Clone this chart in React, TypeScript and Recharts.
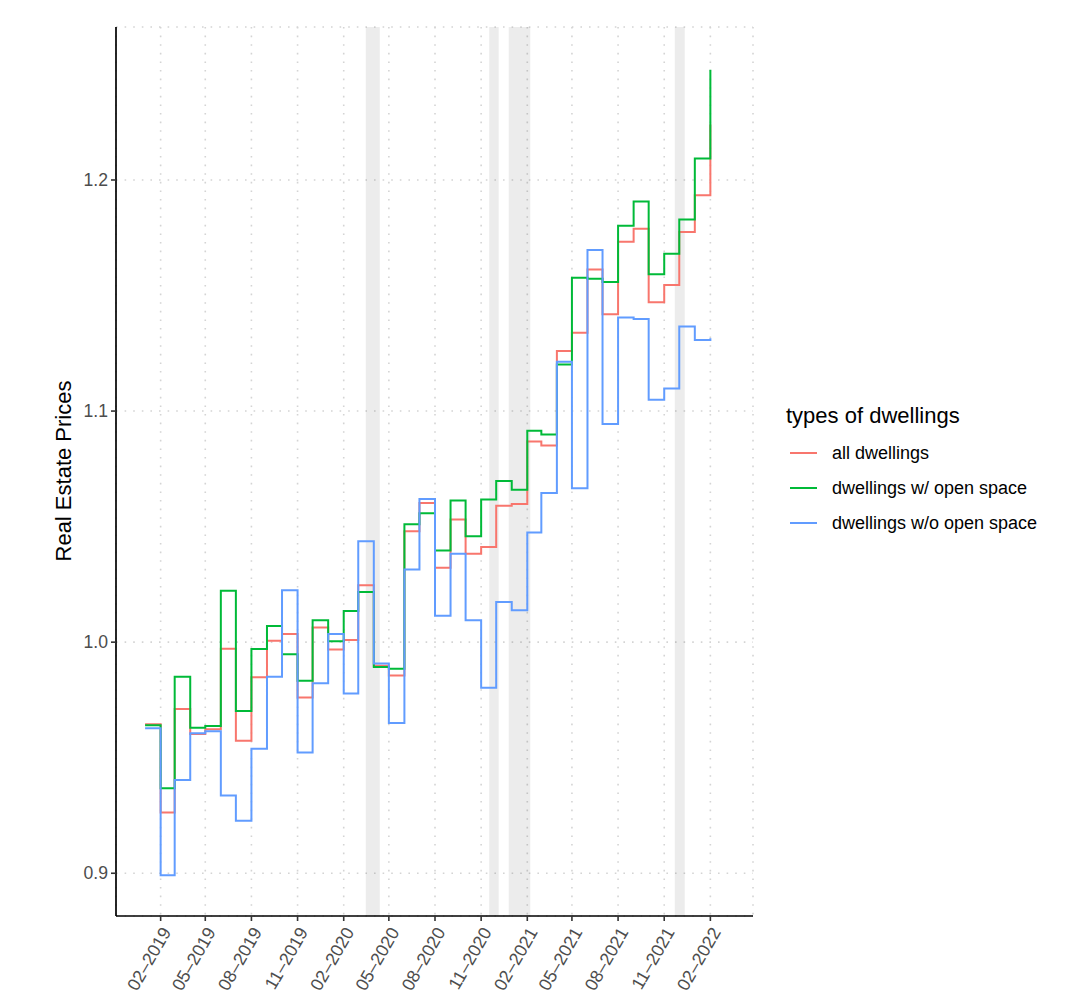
import React from 'react';
import { CartesianGrid, Line, LineChart, ReferenceArea, XAxis, YAxis } from 'recharts';

const MONTHS = [
  '2019-01', '2019-02', '2019-03', '2019-04', '2019-05', '2019-06', '2019-07', '2019-08', '2019-09', '2019-10', '2019-11', '2019-12',
  '2020-01', '2020-02', '2020-03', '2020-04', '2020-05', '2020-06', '2020-07', '2020-08', '2020-09', '2020-10', '2020-11', '2020-12',
  '2021-01', '2021-02', '2021-03', '2021-04', '2021-05', '2021-06', '2021-07', '2021-08', '2021-09', '2021-10', '2021-11', '2021-12',
  '2022-01', '2022-02',
];

// all dwellings
const ALL = [
  0.9645, 0.9263, 0.9711, 0.9603, 0.9623, 0.9971, 0.9573, 0.9848, 1.0006, 1.0035, 0.9761, 1.0063,
  0.9968, 1.0009, 1.0246, 0.9898, 0.9856, 1.0480, 1.0602, 1.0322, 1.0531, 1.0383, 1.0412, 1.0590,
  1.0598, 1.0868, 1.0851, 1.1260, 1.1339, 1.1613, 1.1419, 1.1733, 1.1789, 1.1471, 1.1546, 1.1775,
  1.1934, 1.2240,
];

// dwellings w/ open space
const OPEN = [
  0.9640, 0.9368, 0.9850, 0.9630, 0.9637, 1.0222, 0.9702, 0.9970, 1.0070, 0.9948, 0.9833, 1.0095,
  1.0004, 1.0135, 1.0217, 0.9893, 0.9885, 1.0510, 1.0558, 1.0397, 1.0613, 1.0458, 1.0617, 1.0697,
  1.0659, 1.0915, 1.0899, 1.1202, 1.1577, 1.1573, 1.1559, 1.1802, 1.1907, 1.1592, 1.1681, 1.1829,
  1.2093, 1.2477,
];

// dwellings w/o open space
const NO_OPEN = [
  0.9627, 0.8991, 0.9403, 0.9606, 0.9614, 0.9336, 0.9227, 0.9539, 0.9850, 1.0225, 0.9522, 0.9822,
  1.0035, 0.9778, 1.0437, 0.9908, 0.9650, 1.0314, 1.0620, 1.0114, 1.0383, 1.0095, 0.9803, 1.0174,
  1.0138, 1.0475, 1.0646, 1.1213, 1.0666, 1.1697, 1.0944, 1.1405, 1.1398, 1.1049, 1.1098, 1.1366,
  1.1308, 1.1315,
];

const LOCKDOWNS = [
  ['2020-03-16', '2020-04-13'],
  ['2020-11-17', '2020-12-06'],
  ['2020-12-26', '2021-02-07'],
  ['2021-11-22', '2021-12-12'],
];

const X_TICKS = [
  '2019-02', '2019-05', '2019-08', '2019-11', '2020-02', '2020-05', '2020-08',
  '2020-11', '2021-02', '2021-05', '2021-08', '2021-11', '2022-02',
];
const X_RANGE = ['2018-11-04', '2022-04-27'];
const Y_TICKS = [0.9, 1.0, 1.1, 1.2];
const Y_RANGE = [0.8815, 1.2662];

const SERIES = [
  { key: 'all', name: 'all dwellings', color: '#F8766D' },
  { key: 'open', name: 'dwellings w/ open space', color: '#00BA38' },
  { key: 'noOpen', name: 'dwellings w/o open space', color: '#619CFF' },
];

const FONT = '"Liberation Sans", Arial, Helvetica, sans-serif';
const TEXT = '#4D4D4D';

const ts = (s: string) => {
  const [y, m, d] = s.split('-').map(Number);
  return Date.UTC(y, m - 1, d || 1);
};

const data = MONTHS.map((m, i) => ({ t: ts(m), all: ALL[i], open: OPEN[i], noOpen: NO_OPEN[i] }));

function XTick({ x, y, payload }: any) {
  const d = new Date(payload.value);
  const label = `${String(d.getUTCMonth() + 1).padStart(2, '0')}–${d.getUTCFullYear()}`;
  const ax = x + 11;
  const ay = y + 11;
  return (
    <text x={ax} y={ay} transform={`rotate(-60 ${ax} ${ay})`} textAnchor="end"
      fontSize={17.8} fill={TEXT} fontFamily={FONT}>
      {label}
    </text>
  );
}

export default function App() {
  return (
    <div style={{ position: 'relative', width: 1089, height: 994, background: '#fff' }}>
      <style>{'body{margin:0}'}</style>
      <LineChart width={1089} height={994} data={data} margin={{ top: 27, right: 336, bottom: 0, left: 0 }}>
        <CartesianGrid stroke="#d4d4d4" strokeWidth={1.6} strokeDasharray="1.6 7" />
        <XAxis dataKey="t" type="number" domain={X_RANGE.map(ts)} allowDataOverflow
          ticks={X_TICKS.map(ts)} interval={0} height={78}
          tick={<XTick />} tickSize={5} tickMargin={0}
          axisLine={{ stroke: '#000', strokeWidth: 1.7 }} tickLine={{ stroke: '#333', strokeWidth: 1.6 }} />
        <YAxis type="number" domain={Y_RANGE} allowDataOverflow ticks={Y_TICKS} width={116}
          tickFormatter={(v: number) => v.toFixed(1)} tickSize={5} tickMargin={3}
          tick={{ fontSize: 17.6, fill: TEXT, fontFamily: FONT }}
          axisLine={{ stroke: '#000', strokeWidth: 1.7 }} tickLine={{ stroke: '#333', strokeWidth: 1.6 }} />
        {LOCKDOWNS.map(([a, b]) => (
          <ReferenceArea key={a} x1={ts(a)} x2={ts(b)} fill="#000" fillOpacity={0.075} stroke="none" />
        ))}
        {SERIES.map((s) => (
          <Line key={s.key} type="stepAfter" dataKey={s.key} name={s.name} stroke={s.color}
            strokeWidth={2} dot={false} activeDot={false} isAnimationActive={false} />
        ))}
      </LineChart>
      <svg width={1089} height={994} style={{ position: 'absolute', left: 0, top: 0, pointerEvents: 'none' }}>
        <text transform="translate(71 471) rotate(-90)" textAnchor="middle" fontSize={22}
          fontFamily={FONT} fill="#000">Real Estate Prices</text>
        <text x={786} y={423} fontSize={22} fontFamily={FONT} fill="#000">types of dwellings</text>
        {SERIES.map((s, i) => (
          <g key={s.key}>
            <line x1={790} x2={817} y1={453 + i * 35} y2={453 + i * 35} stroke={s.color} strokeWidth={2} />
            <text x={832} y={453 + i * 35} dy="0.36em" fontSize={18} fontFamily={FONT} fill="#000">{s.name}</text>
          </g>
        ))}
      </svg>
    </div>
  );
}
